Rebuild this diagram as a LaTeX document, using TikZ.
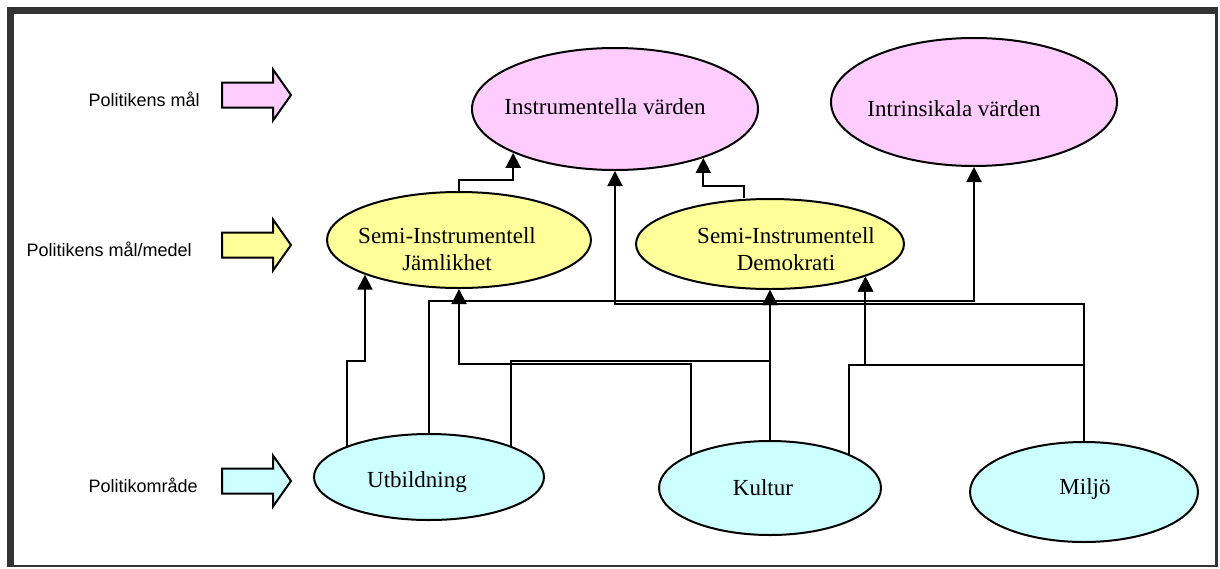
\documentclass[tikz,border=0pt]{standalone}
\usepackage{fontspec}
\setmainfont{Liberation Serif}
\setsansfont{Liberation Sans}
\usetikzlibrary{arrows.meta,shapes.geometric}
\definecolor{goalpink}{HTML}{FFCCFF}
\definecolor{meanyellow}{HTML}{FFFF99}
\definecolor{areacyan}{HTML}{CCFFFF}
\definecolor{framegray}{HTML}{333333}
\begin{document}
\begin{tikzpicture}[x=0.5pt,y=-0.5pt,
	val/.style={ellipse,draw,line width=1pt,inner sep=0pt},
	txt/.style={font=\fontsize{11.5}{13.5}\selectfont,align=center,inner sep=0pt},
	side/.style={font=\sffamily\fontsize{9}{11}\selectfont,anchor=east,inner sep=0pt},
	link/.style={line width=1pt,-{Triangle[width=7.5pt,length=7.5pt]}}]
	\useasboundingbox (0,0) rectangle (1220,568);
	\fill[framegray] (7,7) rectangle (1218,567);
	\fill[white] (14,14) rectangle (1215,565);
	% levels on the left
	\node[side] (malLbl) at (200,99) {Politikens mål};
	\node[side] (medelLbl) at (192,249) {Politikens mål/medel};
	\node[side] (omrLbl) at (198,485) {Politikområde};
	\foreach \y/\c in {95/goalpink,245/meanyellow,481/areacyan}
		\draw[line width=1pt,fill=\c] (222,\y-12.5) -- (273,\y-12.5) -- (273,\y-25.5) -- (291,\y) -- (273,\y+25.5) -- (273,\y+12.5) -- (222,\y+12.5) -- cycle;
	% values
	\node[val,fill=goalpink,minimum width=143pt,minimum height=61pt] (instr) at (615,109) {};
	\node[val,fill=goalpink,minimum width=143pt,minimum height=64pt] (intr) at (974,102) {};
	\node[val,fill=meanyellow,minimum width=132pt,minimum height=48pt] (jaml) at (459,240) {};
	\node[val,fill=meanyellow,minimum width=134pt,minimum height=45pt] (demo) at (770,244) {};
	\node[val,fill=areacyan,minimum width=115pt,minimum height=43pt] (utb) at (429,477) {};
	\node[val,fill=areacyan,minimum width=111pt,minimum height=47pt] (kult) at (770,488) {};
	\node[val,fill=areacyan,minimum width=114pt,minimum height=50pt] (milj) at (1084,492) {};
	\node[txt] (instrTxt) at (605,107) {Instrumentella värden};
	\node[txt] (intrTxt) at (954,109) {Intrinsikala värden};
	\node[txt] (jamlTxt) at (447,249) {Semi-Instrumentell\\Jämlikhet};
	\node[txt] (demoTxt) at (786,249) {Semi-Instrumentell\\Demokrati};
	\node[txt] (utbTxt) at (417,482) {Utbildning};
	\node[txt] (kultTxt) at (763,488) {Kultur};
	\node[txt] (miljTxt) at (1085,489) {Miljö};
	% links
	\draw[link] (jaml.north) -- ++(0,-11) -| (instr.south west);
	\draw[link] ([xshift=-13pt]demo.north) -- ++(0,-12) -| (instr.-29.5);
	\draw[link] (utb.north west) -- ++(0,-85) -| (jaml.south west);
	\draw[link] (utb.north) -- ++(0,-132) -| (intr.south);
	\draw[link] (utb.north east) -- ++(0,-85) -| (demo.south);
	\draw[link] (kult.north west) -- ++(0,-90) -| (jaml.south);
	\draw[link] (kult.north) -- (demo.south);
	\draw[link] (kult.north east) -- ++(0,-89) -| (demo.south east);
	\draw[link] (milj.north) -- ++(0,-76) -| (demo.south east);
	\draw[link] (milj.north) -- ++(0,-137) -| (instr.south);
\end{tikzpicture}
\end{document}
